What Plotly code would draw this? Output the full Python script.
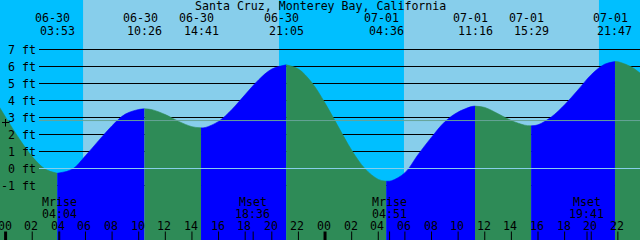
import plotly.graph_objects as go

# ---------------- data ----------------
title = "Santa Cruz, Monterey Bay, California"

# tide height (ft) at each hour, hours counted from 06-30 00:00
hour_t = list(range(-1, 49))
hour_h = [4.30, 3.02, 1.78, 0.70, -0.05, -0.28, -0.05, 0.75, 1.65, 2.52,
          3.20, 3.47, 3.46, 3.17, 2.77, 2.46, 2.41, 2.77, 3.47, 4.35,
          5.21, 5.85, 6.10, 5.85, 5.06, 3.85, 2.45, 1.08, -0.01, -0.64,
          -0.72, -0.25, 0.83, 1.84, 2.75, 3.32, 3.64, 3.59, 3.22, 2.82,
          2.55, 2.57, 3.03, 3.75, 4.62, 5.52, 6.13, 6.28, 5.98, 5.40]

# high / low tide events
tide_t = [3.883, 10.433, 14.683, 21.083, 28.600, 35.267, 39.483, 45.783]
tide_h = [-0.28, 3.51, 2.39, 6.10, -0.75, 3.67, 2.51, 6.29]
tide_kind = ["low", "high", "low", "high", "low", "high", "low", "high"]
tide_date = ["06-30", "06-30", "06-30", "06-30", "07-01", "07-01", "07-01", "07-01"]
tide_time = ["03:53", "10:26", "14:41", "21:05", "04:36", "11:16", "15:29", "21:47"]

# moon events
moon_t = [4.067, 18.600, 28.850, 43.683]
moon_name = ["Mrise", "Mset", "Mrise", "Mset"]
moon_time = ["04:04", "18:36", "04:51", "19:41"]

# daylight
sunrise_t = [5.82, 29.93]
sunset_t = [20.54, 44.58]

# axis ticks
tick_hours = [0, 2, 4, 6, 8, 10, 12, 14, 16, 18, 20, 22,
              24, 26, 28, 30, 32, 34, 36, 38, 40, 42, 44, 46, 48]
tick_labels = ["00", "02", "04", "06", "08", "10", "12", "14", "16", "18", "20", "22",
               "00", "02", "04", "06", "08", "10", "12", "14", "16", "18", "20", "22", "00"]
midnight_hours = [0, 24, 48]
ft_levels = [7, 6, 5, 4, 3, 2, 1, 0, -1]
ft_labels = ["7 ft", "6 ft", "5 ft", "4 ft", "3 ft", "2 ft", "1 ft", "0 ft", "-1 ft"]
mean_level = 2.82

# ---------------- layout constants ----------------
W, H = 640, 240
PXH = 13.31                 # pixels per hour
T0 = -5.6 / PXH
T1 = T0 + W / PXH
Y_TOP = 168.5 / 17.0
Y_BOT = -(H - 168.5) / 17.0

NIGHT = "#00BFFF"
DAY = "#87CEEB"
RISE = "#0000FF"
FALL = "#2E8B57"
FONT = dict(family="DejaVu Sans Mono", size=11.6, color="black")


def py(ypx):
    return 1 - ypx / H


def px(xpx):
    return xpx / W


fig = go.Figure()

# ---------------- tide fill ----------------
pts = [(t, h) for t, h in zip(hour_t, hour_h)
       if all(abs(t - e) > 0.2 for e in tide_t)]
pts += list(zip(tide_t, tide_h))
pts.sort()
bps = [hour_t[0]] + tide_t + [hour_t[-1]]
for i in range(len(bps) - 1):
    a, b = bps[i], bps[i + 1]
    seg = [p for p in pts if a - 1e-9 <= p[0] <= b + 1e-9]
    if i == 0:
        color = FALL
    else:
        color = RISE if tide_kind[i - 1] == "low" else FALL
    st = [p[0] for p in seg]
    sh = [p[1] for p in seg]
    fig.add_trace(go.Scatter(x=[st[0], st[-1]], y=[Y_BOT - 0.2, Y_BOT - 0.2],
                             mode="lines", line=dict(width=0),
                             hoverinfo="skip", showlegend=False))
    fig.add_trace(go.Scatter(x=st, y=sh, mode="lines",
                             line=dict(width=0.6, color=color, shape="spline", smoothing=1),
                             fill="tonexty", fillcolor=color,
                             hoverinfo="skip", showlegend=False))

shapes = []
# daylight bands
for sr, ss in zip(sunrise_t, sunset_t):
    shapes.append(dict(type="rect", xref="x", yref="paper", x0=sr, x1=ss, y0=0, y1=1,
                       fillcolor=DAY, line=dict(width=0), layer="below"))
# grid lines (behind the tide)
for lv in ft_levels:
    if lv == 0:
        continue
    shapes.append(dict(type="line", xref="paper", yref="y", x0=px(39), x1=1, y0=lv, y1=lv,
                       line=dict(color="black", width=1), layer="below"))
# zero and mean lines (over the tide)
shapes.append(dict(type="line", xref="paper", yref="y", x0=px(39), x1=1, y0=0, y1=0,
                   line=dict(color="#87CEEB", width=1), layer="above"))
shapes.append(dict(type="line", xref="paper", yref="y", x0=px(39), x1=1,
                   y0=mean_level, y1=mean_level,
                   line=dict(color="#66A398", width=1), layer="above"))
# hour ticks
for t in tick_hours:
    w = 3 if t in midnight_hours else 1
    shapes.append(dict(type="line", xref="x", yref="paper", x0=t, x1=t,
                       y0=0, y1=8.5 / H, line=dict(color="black", width=w), layer="above"))
# moon ticks
for t in moon_t:
    shapes.append(dict(type="line", xref="x", yref="paper", x0=t, x1=t,
                       y0=0, y1=8.5 / H, line=dict(color="black", width=1), layer="above"))
# "+" marker
shapes.append(dict(type="line", xref="paper", yref="paper", x0=px(2), x1=px(9.5),
                   y0=py(122.5), y1=py(122.5), line=dict(color="black", width=1)))
shapes.append(dict(type="line", xref="paper", yref="paper", x0=px(5.5), x1=px(5.5),
                   y0=py(119), y1=py(126.5), line=dict(color="black", width=1)))

ann = []
ann.append(dict(text=title, x=0.5, y=py(6.3), xref="paper", yref="paper",
                showarrow=False, font=FONT, xanchor="center", yanchor="middle"))
for lv, lab in zip(ft_levels, ft_labels):
    ann.append(dict(text=lab, x=px(37.5), y=lv, xref="paper", yref="y",
                    showarrow=False, font=FONT, xanchor="right", yanchor="middle"))
for t, d, tm in zip(tide_t, tide_date, tide_time):
    ann.append(dict(text=d, x=t, y=py(17.8), xref="x", yref="paper", xshift=-4.3,
                    showarrow=False, font=FONT, xanchor="center", yanchor="middle"))
    ann.append(dict(text=tm, x=t, y=py(30.5), xref="x", yref="paper",
                    showarrow=False, font=FONT, xanchor="center", yanchor="middle"))
for t, nm, tm in zip(moon_t, moon_name, moon_time):
    ann.append(dict(text=nm, x=t, y=py(202), xref="x", yref="paper", xshift=-0.5,
                    showarrow=False, font=FONT, xanchor="center", yanchor="middle"))
    ann.append(dict(text=tm, x=t, y=py(214), xref="x", yref="paper", xshift=-0.5,
                    showarrow=False, font=FONT, xanchor="center", yanchor="middle"))
for t, lab in zip(tick_hours, tick_labels):
    ann.append(dict(text=lab, x=t, y=py(225.8), xref="x", yref="paper", xshift=-1,
                    showarrow=False, font=FONT, xanchor="center", yanchor="middle"))

fig.update_layout(
    width=W, height=H, margin=dict(l=0, r=0, t=0, b=0, pad=0),
    paper_bgcolor=NIGHT, plot_bgcolor=NIGHT,
    xaxis=dict(range=[T0, T1], visible=False, fixedrange=True),
    yaxis=dict(range=[Y_BOT, Y_TOP], visible=False, fixedrange=True),
    shapes=shapes, annotations=ann, showlegend=False,
)
fig.write_html("out.html")
